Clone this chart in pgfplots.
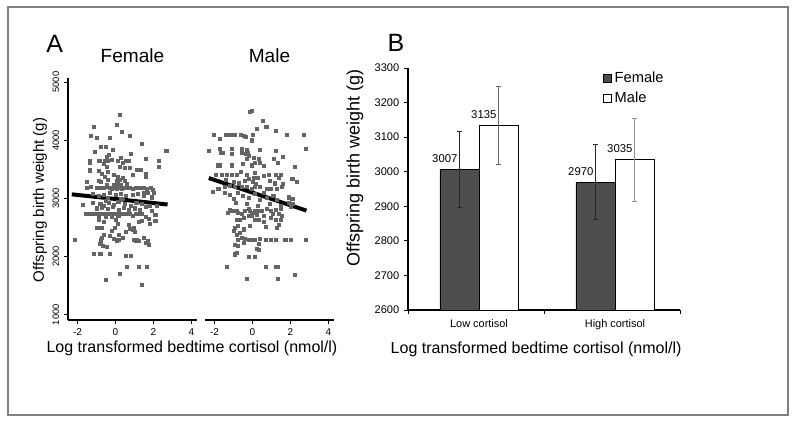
\documentclass[border=0pt]{standalone}
\usepackage{fontspec}
\setmainfont{Liberation Sans}
\usepackage{pgfplots}
\pgfplotsset{compat=1.18}
\definecolor{dotgray}{RGB}{100,100,100}
\definecolor{bardark}{RGB}{77,77,77}
\definecolor{framegray}{RGB}{128,128,128}
\definecolor{errdark}{RGB}{40,40,40}
\definecolor{errlight}{RGB}{150,150,150}

\begin{document}
\begin{tikzpicture}
\useasboundingbox (0,0) rectangle (597.75pt,317.25pt);
\draw[framegray, line width=1pt] (6pt,6pt) rectangle (591pt,312pt);

% ---------- Panel A: Female ----------
\begin{axis}[
  at={(51pt,77.25pt)}, anchor=south west,
  scale only axis, width=96.75pt, height=181.5pt,
  xmin=-2.5, xmax=4.3, ymin=910, ymax=5070,
  axis x line=bottom, axis y line=left, axis line style={-, line width=1.1pt},
  tick align=outside, major tick length=3pt, tick style={black, line width=0.8pt},
  xtick={-2,0,2,4}, xticklabels={-2,0,2,4},
  ytick={1000,2000,3000,4000,5000},
  yticklabel style={rotate=90, anchor=south, font=\fontsize{7}{8}\selectfont},
  xticklabel style={font=\fontsize{7.5}{8}\selectfont},
  /pgf/number format/assume math mode=true, /pgf/number format/1000 sep={},
  title={Female}, title style={at={(axis description cs:0.5,1.029)}, anchor=base, font=\fontsize{14.3}{16}\selectfont, inner sep=0pt},
  ylabel={Offspring birth weight (g)},
  ylabel style={at={(axis description cs:-0.217,0.496)}, anchor=center, font=\fontsize{11.3}{13}\selectfont},
  xlabel={Log transformed bedtime cortisol (nmol/l)},
  xlabel style={at={(axis description cs:0.961,-0.136)}, anchor=base, font=\fontsize{12}{14}\selectfont, inner sep=0pt},
  clip=false,
]
\addplot[only marks, mark=square*, mark size=1.15pt, dotgray] coordinates {
(0.21,4444) (-1.16,4232) (0.09,4261) (0.35,4140) (-1.32,4083) (-0.96,4043) (-0.32,4043) (0.74,4083) (1.40,3940) (2.68,3814)
(-0.75,3888) (-0.53,3888) (-0.14,3842) (-1.10,3796) (-0.35,3756) (0.79,3774) (-0.45,3720)
(-1.33,3640) (-1.33,3610) (-0.85,3640) (-0.56,3640) (-0.40,3640) (-0.2,3660) (0.14,3640) (0.38,3620) (0.55,3640) (0.72,3640) (1.58,3680) (2.28,3640) (0.3,3700) (-0.6,3600)
(2.28,3540) (-1.33,3470) (-1.33,3500) (-0.88,3480) (-0.45,3540) (-0.40,3460) (0.21,3540) (0.49,3520) (0.74,3520) (1.12,3500) (1.36,3500) (1.58,3430) (-0.1,3400) (0.1,3380) (0.4,3360) (-0.7,3420) (-0.55,3380) (0.9,3400) (1.6,3380)
(-0.88,3310) (-0.75,3290) (-0.4,3320) (0.05,3300) (0.25,3320) (0.5,3300) (0.05,3250) (0.3,3230) (0.6,3250) (-0.45,3240) (-1.5,3280)
(-1.5,3190) (-1.3,3200) (-1.0,3180) (-0.75,3190) (-0.6,3180) (-0.45,3200) (-0.3,3190) (-0.2,3170) (-0.1,3180) (0.0,3200) (0.05,3160) (0.15,3190) (0.25,3180) (0.35,3170) (0.5,3190) (0.6,3180) (0.75,3190) (0.9,3170) (1.05,3190) (1.3,3180) (1.5,3190) (1.65,3160) (1.85,3180) (1.95,3150) (1.5,3100) (1.7,3090) (0.2,3230) (-0.1,3240) (0.1,3270)
(-1.2,3080) (-0.9,3050) (-0.6,3070) (-0.3,3100) (0.0,3060) (0.3,3080) (0.55,3040) (0.9,3060) (1.2,3080) (1.5,3040) (1.9,3020) (-0.4,3010) (0.4,3000) (2.0,3100)
(-1.72,2897) (-1.2,2930) (-0.8,2900) (-0.6,2880) (-0.35,2920) (-0.1,2890) (0.15,2940) (0.5,2910) (0.8,2880) (1.1,2920) (1.4,2900) (1.8,2870) (2.2,2880) (-0.5,2960) (0.3,2970)
(-1.0,2830) (-0.7,2840) (-0.4,2820) (-0.15,2850) (0.2,2810) (0.45,2840) (0.7,2800) (1.0,2830) (1.3,2810) (1.6,2850) (1.9,2790) (2.1,2720)
(-1.55,2740) (-1.4,2740) (-1.25,2740) (-1.1,2740) (-0.95,2740) (-0.8,2740) (-0.7,2730) (-0.6,2740) (-0.45,2740) (-0.3,2740) (-0.15,2730) (0.0,2740) (0.1,2740) (0.2,2740) (0.35,2740) (0.5,2730) (0.6,2740) (0.75,2740) (0.9,2700) (1.05,2740) (1.25,2740) (1.4,2730) (1.6,2680) (1.75,2650) (2.1,2620) (0.15,2700) (-0.2,2690) (-0.9,2700) (-0.5,2690)
(-0.9,2640) (-0.6,2600) (0.0,2640) (0.1,2560) (-0.05,2500) (-0.2,2440) (0.7,2550) (0.95,2500) (1.25,2600) (1.4,2620) (1.8,2560) (0.55,2420)
(-1.0,2496) (-0.85,2496) (-0.7,2496) (0.75,2480) (0.9,2460) (1.0,2420)
(-0.6,2380) (-0.7,2330) (-0.75,2290) (-0.8,2220) (-0.3,2350) (-0.1,2300) (0.05,2280) (0.15,2290) (0.95,2290) (1.1,2280) (1.25,2270) (1.5,2330) (1.7,2270) (1.75,2200) (1.6,2240) (-0.65,2180) (-0.45,2170) (0.4,2320) (0.2,2370)
(-2.16,2284)
(-1.15,2049) (-0.8,2049) (-0.3,2049)
(0.53,2009) (0.82,2009) (0.6,1825) (1.23,1825) (1.65,1825) (0.25,1710) (-0.49,1607) (1.39,1522)
};
\addplot[black, line width=3pt] coordinates {(-2.3,3070) (2.75,2895)};
\end{axis}

% ---------- Panel A: Male ----------
\begin{axis}[
  at={(153.75pt,77.25pt)}, anchor=south west,
  scale only axis, width=96.75pt, height=181.5pt,
  xmin=-2.5, xmax=4.3, ymin=910, ymax=5070,
  axis x line=bottom, axis y line=none, axis line style={-, line width=1.1pt},
  tick align=outside, major tick length=3pt, tick style={black, line width=0.8pt},
  xtick={-2,0,2,4}, xticklabels={-2,0,2,4},
  xticklabel style={font=\fontsize{7.5}{8}\selectfont},
  /pgf/number format/assume math mode=true, /pgf/number format/1000 sep={},
  title={Male}, title style={at={(axis description cs:0.5,1.029)}, anchor=base, font=\fontsize{14.3}{16}\selectfont, inner sep=0pt},
  clip=false,
]
\addplot[only marks, mark=square*, mark size=1.15pt, dotgray] coordinates {
(-0.13,4484) (-0.05,4510) (0.53,4329) (0.73,4232) (0.23,4198) (1.25,4169) (-2.03,4089)
(-1.41,4089) (-1.3,4100) (-1.12,4089) (-0.93,4089) (-0.61,4089) (-0.48,4083) (-0.36,4060) (0.0,4100) (1.8,4089) (2.73,4089) (-1.73,4031) (-0.05,4000)
(-2.32,3825) (2.82,3860) (-1.73,3860) (-1.1,3860) (-0.57,3860) (-0.3,3830) (0.41,3830) (1.21,3825)
(-1.66,3780) (-1.55,3780) (-1.1,3760) (-0.57,3790) (-0.36,3760) (-0.25,3790) (-0.18,3730) (-0.3,3680) (0.05,3700) (0.14,3620) (-0.04,3570) (1.6,3710) (1.12,3680) (1.35,3610) (0.32,3680) (0.41,3620)
(-1.82,3570) (-1.73,3570) (-1.1,3570) (2.25,3540) (0.6,3560) (-0.5,3600)
(-1.91,3410) (-1.64,3410) (-1.34,3410) (-1.1,3410) (-0.84,3410) (-0.3,3410) (0.14,3440) (0.59,3390) (0.86,3410) (1.21,3410) (1.48,3410) (-0.6,3450) (0.3,3350)
(-0.4,3300) (-0.2,3330) (0.0,3290) (0.2,3250) (0.05,3350) (-0.7,3260) (-1.0,3280) (-1.4,3320) (0.9,3300) (1.2,3260) (1.6,3250) (2.1,3340) (2.35,3280) (1.4,3350)
(-2.07,3110) (-1.8,3170) (-1.45,3200) (-1.2,3210) (-0.93,3200) (-0.57,3200) (-0.3,3200) (-0.04,3170) (0.14,3200) (0.41,3200) (0.77,3170) (0.95,3170) (1.3,3170) (1.55,3200) (-1.45,3100) (-1.2,3070) (-0.75,3100)
(-0.2,3010) (0.41,2980) (0.77,3010) (1.3,2980) (1.93,3020) (1.93,2930)
(-1.0,3000) (-0.5,3050) (0.1,3080) (0.6,3100) (1.1,3050) (-0.9,2920) (-0.3,2900) (0.3,2880) (0.9,2900) (1.5,2880) (2.0,2850)
(-1.2,2810) (-1.1,2780) (-1.0,2790) (-0.84,2780) (-0.4,2780) (-0.21,2820) (-0.13,2790) (-0.04,2760) (0.14,2790) (0.32,2780) (0.5,2790) (0.77,2820) (0.95,2790) (1.25,2810) (1.48,2820) (2.1,2990) (2.1,2900)
(-0.57,2730) (-0.2,2700) (-0.04,2700) (0.23,2720) (0.6,2700) (1.05,2730) (1.4,2730) (1.57,2700) (-0.75,2750) (0.0,2760) (-1.3,2760)
(-0.84,2640) (-0.66,2640) (-0.48,2660) (0.14,2640) (0.32,2640) (0.59,2600) (0.95,2660) (1.21,2640) (1.48,2640)
(-0.93,2490) (-0.75,2530) (-0.48,2470) (-0.13,2530) (0.68,2510) (1.3,2500) (1.39,2550) (-1.0,2450)
(-0.84,2380) (-0.66,2410) (-0.57,2330) (-0.39,2300) (-0.21,2284) (-0.04,2284) (0.14,2284) (0.41,2300) (0.68,2284) (0.95,2284) (1.21,2284) (1.73,2284) (2.0,2284) (2.82,2284) (-0.75,2284) (-0.93,2200)
(-0.75,2190) (-0.48,2240) (0.32,2220) (0.23,2130)
(-0.93,2040) (-0.84,2060) (-0.21,2000) (0.14,2000) (0.32,2112)
(-1.37,1825) (0.68,1825) (1.25,1825) (1.36,1825) (2.25,1693) (-0.3,1619) (1.36,1619)
};
\addplot[black, line width=3pt] coordinates {(-2.3,3350) (2.85,2790)};
\end{axis}

% ---------- Panel B ----------
\begin{axis}[
  at={(306pt,84.75pt)}, anchor=south west,
  scale only axis, width=204pt, height=181.5pt,
  xmin=-0.522, xmax=1.478, ymin=2600, ymax=3300,
  axis x line=bottom, axis y line=left, axis line style={-, line width=0.8pt},
  tick align=outside, major tick length=3pt, tick style={black, line width=0.6pt},
  ytick={2600,2700,2800,2900,3000,3100,3200,3300},
  yticklabel style={font=\fontsize{8.3}{9}\selectfont},
  xtick={-0.522,0.478,1.478}, xticklabels={,,},
  extra x ticks={0,1}, extra x tick labels={Low cortisol,High cortisol},
  extra x tick style={major tick length=0pt, tick style={draw=none}, xticklabel style={font=\fontsize{8.2}{9}\selectfont, yshift=-4pt}},
  /pgf/number format/assume math mode=true, /pgf/number format/1000 sep={},
  ylabel={Offspring birth weight (g)},
  ylabel style={at={(axis description cs:-0.195,0.587)}, anchor=center, font=\fontsize{13.5}{15}\selectfont},
  xlabel={Log transformed bedtime cortisol (nmol/l)},
  xlabel style={at={(axis description cs:0.471,-0.178)}, anchor=base, font=\fontsize{12}{14}\selectfont, inner sep=0pt},
  legend style={draw=none, fill=none, at={(axis description cs:0.715,0.995)}, anchor=north west, font=\fontsize{11}{13}\selectfont, row sep=1.5pt, inner sep=0pt},
  legend cell align=left,
  legend image code/.code={\draw[#1, draw=black, line width=0.6pt] (0pt,-3.2pt) rectangle (6.4pt,3.2pt);},
  nodes near coords style={font=\fontsize{8.5}{9}\selectfont, anchor=south, xshift=-11pt, yshift=1.5pt},
  clip=false,
]
\addplot[ybar, bar width=0.287, bar shift=0pt, fill=bardark, draw=black, line width=0.6pt,
  nodes near coords, point meta=y,
  error bars/.cd, y dir=both, y explicit,
  error bar style={errdark, line width=0.6pt}, error mark options={errdark, mark size=2pt, line width=0.6pt, rotate=90}]
  coordinates {(-0.1435,3007) +- (0,110) (0.8565,2970) +- (0,109)};
\addlegendentry{Female}
\addplot[ybar, bar width=0.287, bar shift=0pt, fill=white, draw=black, line width=0.6pt,
  nodes near coords, point meta=y,
  error bars/.cd, y dir=both, y explicit,
  error bar style={errdark!70!white, line width=0.6pt}, error mark options={errdark!70!white, mark size=2pt, line width=0.6pt, rotate=90}]
  coordinates {(0.1435,3135) +- (0,113)};
\addlegendentry{Male}
\addplot[ybar, bar width=0.287, bar shift=0pt, fill=white, draw=black, line width=0.6pt, forget plot,
  nodes near coords, point meta=y,
  error bars/.cd, y dir=both, y explicit,
  error bar style={errlight, line width=0.6pt}, error mark options={errlight, mark size=2pt, line width=0.6pt, rotate=90}]
  coordinates {(1.1435,3035) +- (0,120)};
\end{axis}

\node[anchor=base west, inner sep=0pt, font=\fontsize{18.75}{20}\selectfont] at (34.5pt,277.5pt) {A};
\node[anchor=base west, inner sep=0pt, font=\fontsize{18.75}{20}\selectfont] at (290.5pt,278.25pt) {B};
\end{tikzpicture}
\end{document}
